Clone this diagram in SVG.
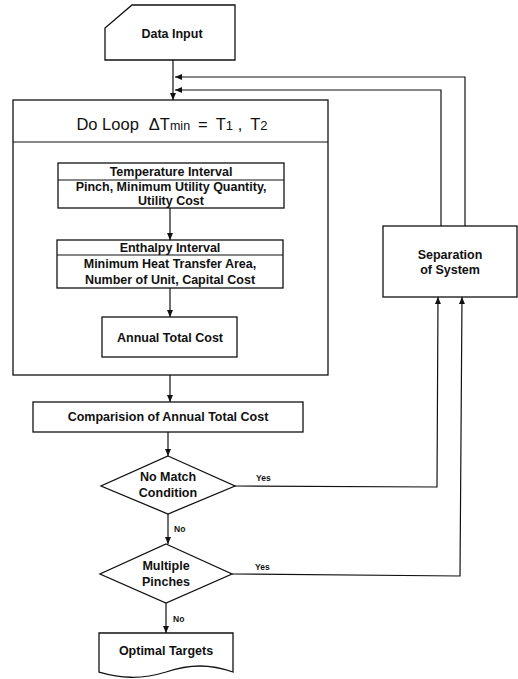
<svg xmlns="http://www.w3.org/2000/svg" width="518" height="679" viewBox="0 0 518 679">
<defs>
<style>
.s{fill:#fff;stroke:#111;stroke-width:1.3}
.l{fill:none;stroke:#111;stroke-width:1.2}
.t{font-family:"Liberation Sans",Arial,sans-serif;font-weight:bold;font-size:12.5px;fill:#111;text-anchor:middle}
.y{font-family:"Liberation Sans",Arial,sans-serif;font-weight:bold;font-size:8.5px;fill:#111}
.h{font-family:"Liberation Sans",Arial,sans-serif;font-size:16.5px;fill:#111;text-anchor:middle}
</style>
<marker id="a" markerWidth="8" markerHeight="8" refX="7" refY="4" orient="auto" markerUnits="userSpaceOnUse">
<path d="M0,1 L7,4 L0,7 Z" fill="#111"/>
</marker>
</defs>
<rect width="518" height="679" fill="#fff"/>
<g id="data-input">
<path class="s" d="M132,5 L235,5 L235,60 L105,60 L105,28 Z"/>
<text class="t" x="172" y="38">Data Input</text>
</g>
<g id="do-loop">
<rect class="s" x="13" y="100" width="315" height="275"/>
<line class="l" x1="13" y1="142" x2="328" y2="142"/>
<text class="h" x="172" y="130">Do Loop<tspan dx="10">ΔT</tspan><tspan font-size="12.5">min</tspan><tspan dx="8">=</tspan><tspan dx="8">T</tspan><tspan font-size="13">1</tspan> ,<tspan dx="8">T</tspan><tspan font-size="13">2</tspan></text>
</g>
<g id="temperature-interval">
<rect class="s" x="58" y="163" width="226" height="45"/>
<line class="l" x1="58" y1="180" x2="284" y2="180"/>
<text class="t" x="171" y="176">Temperature Interval</text>
<text class="t" x="171" y="191">Pinch, Minimum Utility Quantity,</text>
<text class="t" x="171" y="205">Utility Cost</text>
</g>
<g id="enthalpy-interval">
<rect class="s" x="57" y="240" width="226" height="48"/>
<line class="l" x1="57" y1="255" x2="283" y2="255"/>
<text class="t" x="170" y="252">Enthalpy Interval</text>
<text class="t" x="170" y="268">Minimum Heat Transfer Area,</text>
<text class="t" x="170" y="284">Number of Unit, Capital Cost</text>
</g>
<g id="annual-total-cost">
<rect class="s" x="102" y="317" width="135" height="40"/>
<text class="t" x="170" y="342">Annual Total Cost</text>
</g>
<g id="comparison">
<rect class="s" x="33" y="402" width="270" height="30"/>
<text class="t" x="168" y="421">Comparision of Annual Total Cost</text>
</g>
<g id="no-match">
<polygon class="s" points="168,456 235,486 168,514 101,486"/>
<text class="t" x="168" y="481">No Match</text>
<text class="t" x="168" y="497">Condition</text>
</g>
<g id="multiple-pinches">
<polygon class="s" points="166,544 232,574 166,603 100,574"/>
<text class="t" x="166" y="570">Multiple</text>
<text class="t" x="166" y="586">Pinches</text>
</g>
<g id="optimal-targets">
<path class="s" d="M99,633 L233,633 L233,672 C210,664 190,664 166,672 C140,680 120,678 99,672 Z"/>
<text class="t" x="166" y="655">Optimal Targets</text>
</g>
<g id="separation">
<rect class="s" x="383" y="226" width="134" height="71"/>
<text class="t" x="450" y="259">Separation</text>
<text class="t" x="450" y="274">of System</text>
</g>
<g id="connectors">
<line class="l" x1="173" y1="60" x2="173" y2="100" marker-end="url(#a)"/>
<polyline class="l" points="465,226 465,77 175,77" marker-end="url(#a)"/>
<polyline class="l" points="441,226 441,90 175,90" marker-end="url(#a)"/>
<line class="l" x1="170" y1="208" x2="170" y2="240" marker-end="url(#a)"/>
<line class="l" x1="170" y1="288" x2="170" y2="317" marker-end="url(#a)"/>
<line class="l" x1="170" y1="375" x2="170" y2="402" marker-end="url(#a)"/>
<line class="l" x1="168" y1="432" x2="168" y2="456" marker-end="url(#a)"/>
<line class="l" x1="168" y1="514" x2="168" y2="544" marker-end="url(#a)"/>
<line class="l" x1="166" y1="603" x2="166" y2="633" marker-end="url(#a)"/>
<polyline class="l" points="235,486 437,487 438,297" marker-end="url(#a)"/>
<polyline class="l" points="232,574 460,576 462,297" marker-end="url(#a)"/>
<text class="y" x="256" y="481">Yes</text>
<text class="y" x="255" y="570">Yes</text>
<text class="y" x="174" y="532">No</text>
<text class="y" x="173" y="622">No</text>
</g>
</svg>
